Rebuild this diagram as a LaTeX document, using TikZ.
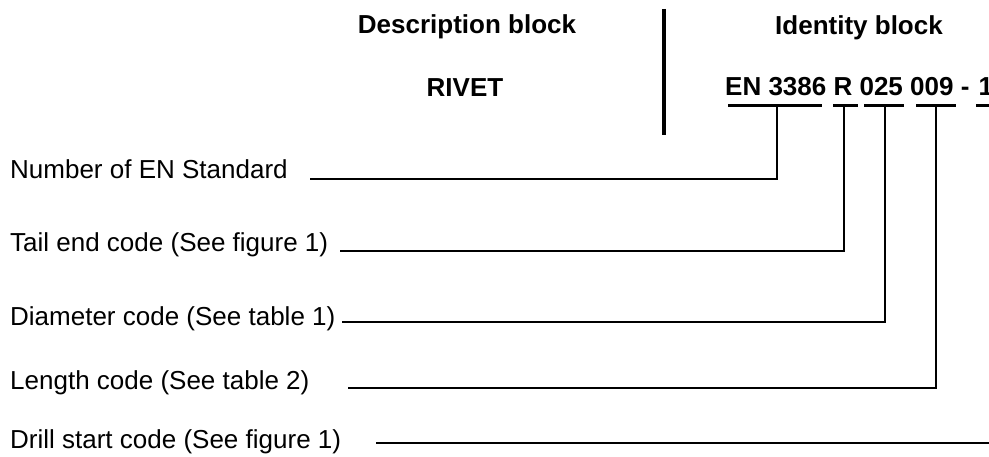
\documentclass[tikz,border=0pt]{standalone}
\usepackage{fontspec}
\setmainfont{Liberation Sans}
\begin{document}
\begin{tikzpicture}[x=1pt,y=-1pt,
 lbl/.style={anchor=base west, inner sep=0pt, font=\fontsize{26}{31}\selectfont},
 hdr/.style={anchor=base, inner sep=0pt, font=\fontsize{26}{31}\selectfont\bfseries},
 bar/.style={line width=3.5pt},
 lead/.style={line width=1.6pt, line join=miter},
 divider/.style={line width=4pt}]
\useasboundingbox (0,0) rectangle (989,457);
% headers
\node[hdr] (desc) at (467,34) {Description block};
\node[hdr] (ident) at (859,35) {Identity block};
\node[hdr] (rivet) at (465,97) {RIVET};
\node[hdr, anchor=base west] (code) at (725,96) {EN 3386 R 025 009 -\hspace{0.35em}1};
\coordinate (dtop) at (664,9);
\coordinate (dbot) at (664,135);
\draw[divider] (dtop) -- (dbot);
% bars under code groups
\coordinate (b1l) at (728,105.5); \coordinate (b1r) at (822,105.5);
\coordinate (b2l) at (833,105.5); \coordinate (b2r) at (858,105.5);
\coordinate (b3l) at (864,105.5); \coordinate (b3r) at (904,105.5);
\coordinate (b4l) at (916,105.5); \coordinate (b4r) at (956,105.5);
\coordinate (b5l) at (976,105.5); \coordinate (b5r) at (995,105.5);
\draw[bar] (b1l) -- (b1r);
\draw[bar] (b2l) -- (b2r);
\draw[bar] (b3l) -- (b3r);
\draw[bar] (b4l) -- (b4r);
\draw[bar] (b5l) -- (b5r);
\coordinate (t1) at (777,105.5);
\coordinate (t2) at (844,105.5);
\coordinate (t3) at (885,105.5);
\coordinate (t4) at (936,105.5);
% labels
\node[lbl] (l1) at (10,179) {Number of EN Standard};
\node[lbl] (l2) at (10,252) {Tail end code (See figure 1)};
\node[lbl] (l3) at (10,326) {Diameter code (See table 1)};
\node[lbl] (l4) at (10,389) {Length code (See table 2)};
\node[lbl] (l5) at (10,448) {Drill start code (See figure 1)};
% leaders
\coordinate (s1) at (310,179);
\coordinate (s2) at (340,251);
\coordinate (s3) at (342,322);
\coordinate (s4) at (348,388);
\coordinate (s5) at (376,443);
\coordinate (e5) at (995,443);
\draw[lead] (s1) -- (s1 -| t1) -- (t1);
\draw[lead] (s2) -- (s2 -| t2) -- (t2);
\draw[lead] (s3) -- (s3 -| t3) -- (t3);
\draw[lead] (s4) -- (s4 -| t4) -- (t4);
\draw[lead] (s5) -- (e5);
\end{tikzpicture}
\end{document}
